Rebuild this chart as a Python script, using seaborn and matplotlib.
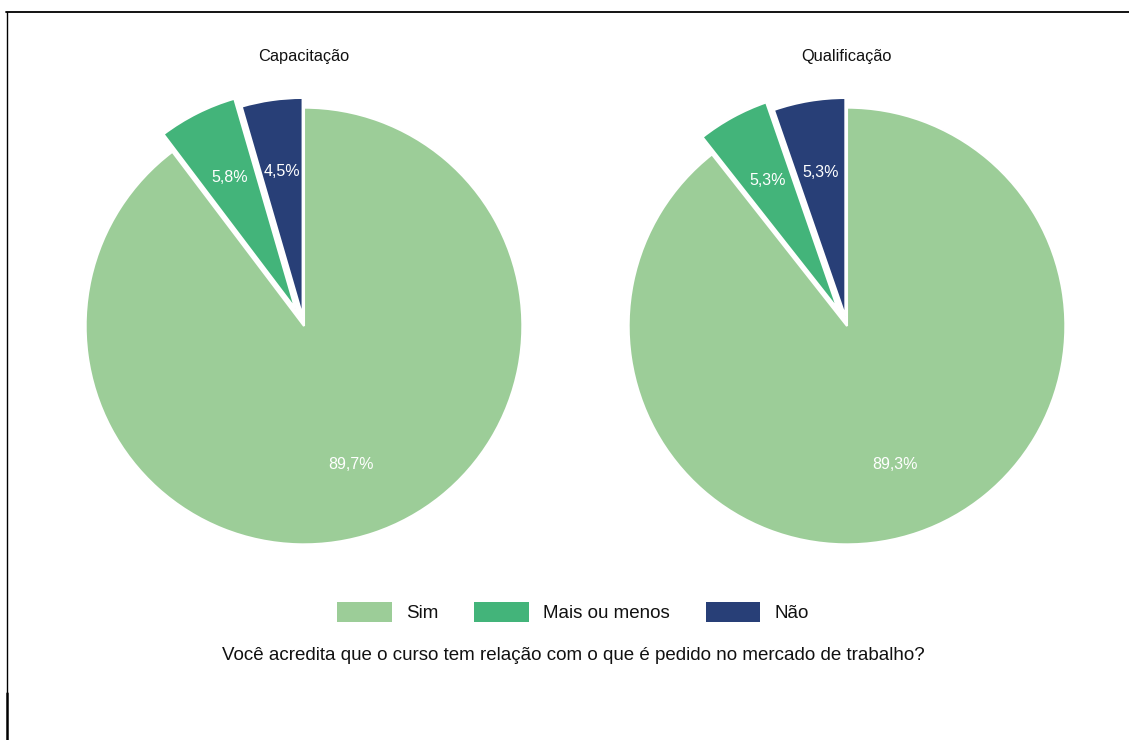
import matplotlib
matplotlib.use("Agg")
import matplotlib.pyplot as plt
from matplotlib.lines import Line2D
from matplotlib.patches import Patch
import seaborn as sns

# dados
categorias = ["Sim", "Mais ou menos", "Não"]
capacitacao = [89.7, 5.8, 4.5]
qualificacao = [89.3, 5.3, 5.3]
titulos = ["Capacitação", "Qualificação"]
pergunta = "Você acredita que o curso tem relação com o que é pedido no mercado de trabalho?"

sns.set_theme(style="white")
plt.rcParams['font.family'] = ['Liberation Sans', 'DejaVu Sans']

cores = sns.color_palette(["#9ccd98", "#43b47a", "#283f77"])

fig = plt.figure(figsize=(11.29, 7.4), dpi=100)

def rotulos(valores):
    it = iter(valores)
    return lambda p: f"{next(it):.1f}%".replace(".", ",")

centros = [304, 847]
for cx, valores, titulo in zip(centros, [capacitacao, qualificacao], titulos):
    lado = 500
    ax = fig.add_axes([(cx - lado / 2) / 1129, (740 - 326 - lado / 2) / 740, lado / 1129, lado / 740])
    wedges, texts, autotexts = ax.pie(
        valores, colors=cores, startangle=90, counterclock=False,
        explode=[0, 0.09, 0.045], autopct=rotulos(valores), pctdistance=0.67,
        wedgeprops=dict(edgecolor="white", linewidth=1.5),
        textprops=dict(color="white", fontsize=11.5))
    ax.set_xlim(-1.145, 1.145)
    ax.set_ylim(-1.145, 1.145)
    ax.set_aspect("equal")
    ax.axis("off")
    fig.text(cx / 1129, 1 - 57 / 740, titulo, ha="center", va="center", fontsize=11.8, color="#111111")

handles = [Patch(facecolor=c, edgecolor="none") for c in cores]
leg = fig.legend(handles, categorias, loc="center", bbox_to_anchor=(573 / 1129, 1 - 612 / 740),
                 ncol=3, frameon=False, fontsize=13.5, handlelength=2.93, handleheight=1.33,
                 handletextpad=0.75, columnspacing=1.9)
for t in leg.get_texts():
    t.set_color("#111111")

fig.text(573 / 1129, 1 - 656 / 740, pergunta, ha="center", va="center", fontsize=13.5, color="#111111")

# moldura parcial (recorte da tela)
fig.add_artist(Line2D([6 / 1129, 1], [1 - 12 / 740] * 2, color="black", linewidth=1.3, transform=fig.transFigure))
fig.add_artist(Line2D([7 / 1129] * 2, [1 - 12 / 740, 1 - 693 / 740], color="black", linewidth=1.0, transform=fig.transFigure))
fig.add_artist(Line2D([7 / 1129] * 2, [1 - 693 / 740, 0], color="black", linewidth=1.8, transform=fig.transFigure))

fig.savefig("out.png", dpi=100)
